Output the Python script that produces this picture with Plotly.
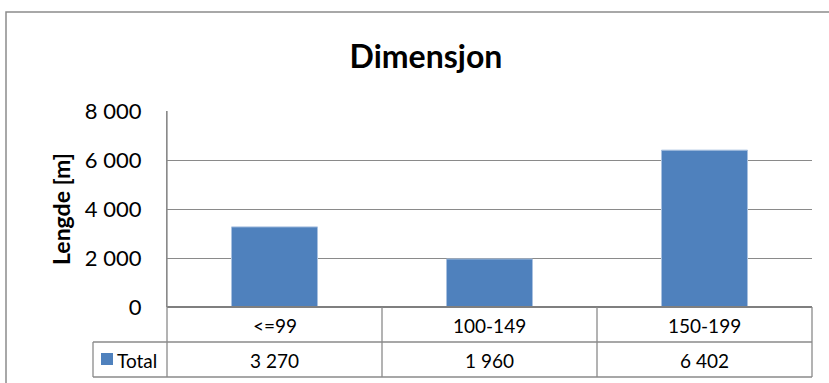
import plotly.graph_objects as go

categories = ["<=99", "100-149", "150-199"]
values = [3270, 1960, 6402]
series_name = "Total"
y_ticks = [0, 2000, 4000, 6000, 8000]
title_text = "Dimensjon"
y_title = "Lengde [m]"

W, H = 829, 383
L, R, T, B = 167, 812, 111, 307  # plot area in pixels
pw, ph = R - L, B - T

def px(x):
    return (x - L) / pw

def py(y):
    return (B - y) / ph

FONT = "Lato"
GRID = "#8a8a8a"
BAR = "#4F81BD"

def fmt(v):
    return f"{v:,}".replace(",", " ")

fig = go.Figure()
fig.add_trace(go.Bar(
    x=categories, y=values, name=series_name,
    marker=dict(color=BAR, line=dict(color="#A9C1E0", width=1)),
    width=0.4, showlegend=False,
))

shapes = []
line = dict(color=GRID, width=1.3)
# outer chart border
shapes.append(dict(type="rect", xref="paper", yref="paper",
                   x0=px(6), x1=px(845), y0=py(12), y1=py(400),
                   line=dict(color="#8c8c8c", width=1.5)))
# table horizontal lines
shapes.append(dict(type="line", xref="paper", yref="paper", x0=0, x1=1, y0=0, y1=0,
                   line=dict(color="#7f7f7f", width=2)))
for yy in (342, 377):
    shapes.append(dict(type="line", xref="paper", yref="paper",
                       x0=px(93), x1=1, y0=py(yy), y1=py(yy), line=line))
# table vertical lines
shapes.append(dict(type="line", xref="paper", yref="paper",
                   x0=px(93), x1=px(93), y0=py(342), y1=py(377), line=line))
n = len(categories)
for i in range(n + 1):
    xx = i / n
    y_top = 1 if i == 0 else 0
    shapes.append(dict(type="line", xref="paper", yref="paper",
                       x0=xx, x1=xx, y0=y_top, y1=py(377), line=line))
# legend key
shapes.append(dict(type="rect", xref="paper", yref="paper",
                   x0=px(101), x1=px(113), y0=py(353), y1=py(365),
                   fillcolor=BAR, line=dict(width=0)))

tfont = dict(family=FONT, size=19, color="#000")
annotations = []
for c, v in zip(categories, values):
    annotations.append(dict(x=c, xref="x", y=py(325), yref="paper", text=c,
                            yanchor="middle", showarrow=False, font=tfont))
    annotations.append(dict(x=c, xref="x", y=py(360), yref="paper", text=fmt(v),
                            yanchor="middle", showarrow=False, font=tfont))
annotations.append(dict(x=px(115), xref="paper", y=py(360), yref="paper", text=series_name,
                        xanchor="left", yanchor="middle", showarrow=False, font=tfont))
annotations.append(dict(x=px(61), xref="paper", y=py(209), yref="paper", text="<b>" + y_title + "</b>",
                        textangle=-90, xanchor="center", yanchor="middle", showarrow=False,
                        font=dict(family=FONT, size=23, color="#000")))

fig.update_layout(
    width=W, height=H,
    margin=dict(l=L, r=W - R, t=T, b=H - B, pad=0),
    paper_bgcolor="white", plot_bgcolor="white",
    separators=", ",
    title=dict(text="<b>" + title_text + "</b>", xref="container", x=426 / W, xanchor="center",
               yref="container", y=1 - 57 / H, yanchor="middle",
               font=dict(family=FONT, size=32, color="#000")),
    xaxis=dict(range=[-0.5, n - 0.5], showticklabels=False, showgrid=False,
               zeroline=False, showline=False, fixedrange=True),
    yaxis=dict(range=[0, 8000], tickvals=y_ticks, tickformat=",d",
               showgrid=True, gridcolor=GRID, gridwidth=1.3,
               zeroline=False, showline=True, linecolor=GRID, linewidth=1.3,
               ticks="", ticklabelstandoff=20,
               tickfont=dict(family=FONT, size=22, color="#000")),
    shapes=shapes, annotations=annotations,
    bargap=0.6,
)

fig.write_html("out.html")
